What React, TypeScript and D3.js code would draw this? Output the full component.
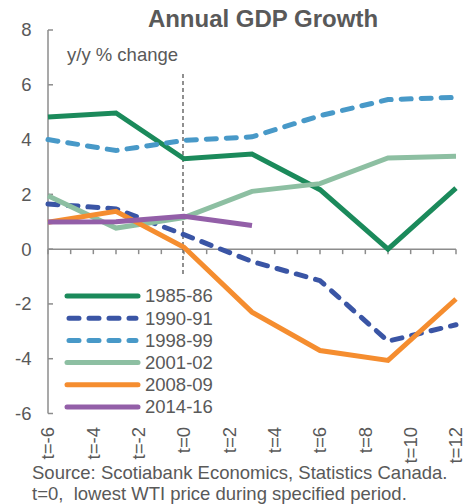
import React from "react";
import * as d3 from "d3";

const tValues = [-6, -3, 0, 3, 6, 9, 12];
const seriesNames = ["1985-86", "1990-91", "1998-99", "2001-02", "2008-09", "2014-16"];
const s1985 = [4.82, 4.97, 3.3, 3.47, 2.17, 0.0, 2.23];
const s1990 = [1.65, 1.47, 0.53, -0.45, -1.15, -3.36, -2.76];
const s1998 = [4.0, 3.6, 3.97, 4.1, 4.87, 5.46, 5.54];
const s2001 = [1.95, 0.77, 1.15, 2.11, 2.39, 3.33, 3.39];
const s2008 = [0.98, 1.38, 0.07, -2.3, -3.7, -4.06, -1.82];
const s2014 = [0.99, 1.0, 1.2, 0.86];
const yTicks = [8, 6, 4, 2, 0, -2, -4, -6];
const xLabelTicks = [-6, -4, -2, 0, 2, 4, 6, 8, 10, 12];
const xMinorTicks = d3.range(-6, 13, 1);
const colors = ["#1b8a5b", "#3a55a5", "#4899c8", "#8dbfa2", "#f58d2f", "#935fa8"];
const dashed = [false, true, true, false, false, false];

const allSeries = [s1985, s1990, s1998, s2001, s2008, s2014];

export default function App() {
  const x = d3.scaleLinear().domain([-6, 12]).range([48, 456]);
  const y = d3.scaleLinear().domain([-6, 8]).range([413.5, 30]);
  const line = d3
    .line<[number, number]>()
    .x((d) => x(d[0]))
    .y((d) => y(d[1]));
  const font = "'Liberation Sans', Arial, sans-serif";
  const textColor = "#595959";
  const axisColor = "#8c8c8c";
  const legendY0 = 296;
  const legendStep = 22.2;
  const fs = 18.5;

  return (
    <svg
      width={471}
      height={504}
      style={{ position: "absolute", left: 0, top: 0, background: "#fff" }}
      fontFamily={font}
    >
      <text x={263} y={27} textAnchor="middle" fontSize={24} fontWeight="bold" fill={textColor}>
        Annual GDP Growth
      </text>
      <text x={67} y={61} fontSize={fs} fill={textColor}>
        y/y % change
      </text>

      {/* y axis */}
      <line x1={x(-6)} x2={x(-6)} y1={y(8)} y2={y(-6)} stroke={axisColor} strokeWidth={1.5} />
      {yTicks.map((v) => (
        <g key={v}>
          <line x1={x(-6)} x2={x(-6) + 5} y1={y(v)} y2={y(v)} stroke={axisColor} strokeWidth={1.5} />
          <text x={31.5} y={y(v)} dy="0.35em" textAnchor="end" fontSize={fs} fill={textColor}>
            {v}
          </text>
        </g>
      ))}

      {/* x axis at 0 */}
      <line x1={x(-6)} x2={x(12)} y1={y(0)} y2={y(0)} stroke={axisColor} strokeWidth={1.5} />
      {xMinorTicks.map((t) => (
        <line key={t} x1={x(t)} x2={x(t)} y1={y(0)} y2={y(0) + 5} stroke={axisColor} strokeWidth={1.5} />
      ))}
      {xLabelTicks.map((t) => (
        <text
          key={t}
          transform={`translate(${x(t)},427) rotate(-90)`}
          textAnchor="end"
          dy="0.35em"
          fontSize={fs}
          fill={textColor}
        >
          {`t=${t}`}
        </text>
      ))}

      {/* t=0 marker */}
      <line
        x1={x(0) - 1}
        x2={x(0) - 1}
        y1={74}
        y2={275}
        stroke="#555"
        strokeWidth={1.3}
        strokeDasharray="4,3"
      />

      {allSeries.map((s, i) => (
        <path
          key={seriesNames[i]}
          d={line(s.map((v, j) => [tValues[j], v] as [number, number])) || ""}
          fill="none"
          stroke={colors[i]}
          strokeWidth={5}
          strokeLinejoin="miter"
          strokeLinecap={dashed[i] ? "round" : "butt"}
          strokeDasharray={dashed[i] ? "10,10" : undefined}
        />
      ))}

      {/* legend */}
      {seriesNames.map((name, i) => (
        <g key={name}>
          <line
            x1={dashed[i] ? 69 : 67}
            x2={dashed[i] ? 136 : 138}
            y1={legendY0 + i * legendStep}
            y2={legendY0 + i * legendStep}
            stroke={colors[i]}
            strokeWidth={5}
            strokeLinecap="round"
            strokeDasharray={dashed[i] ? "10,10" : undefined}
          />
          <text x={145} y={legendY0 + i * legendStep} dy="0.35em" fontSize={fs} fill={textColor}>
            {name}
          </text>
        </g>
      ))}

      <text x={32} y={479} fontSize={fs} fill={textColor}>
        Source: Scotiabank Economics, Statistics Canada.
      </text>
      <text x={32} y={500} fontSize={fs} fill={textColor} style={{ whiteSpace: "pre" }}>
        {"t=0,  lowest WTI price during specified period."}
      </text>
    </svg>
  );
}
